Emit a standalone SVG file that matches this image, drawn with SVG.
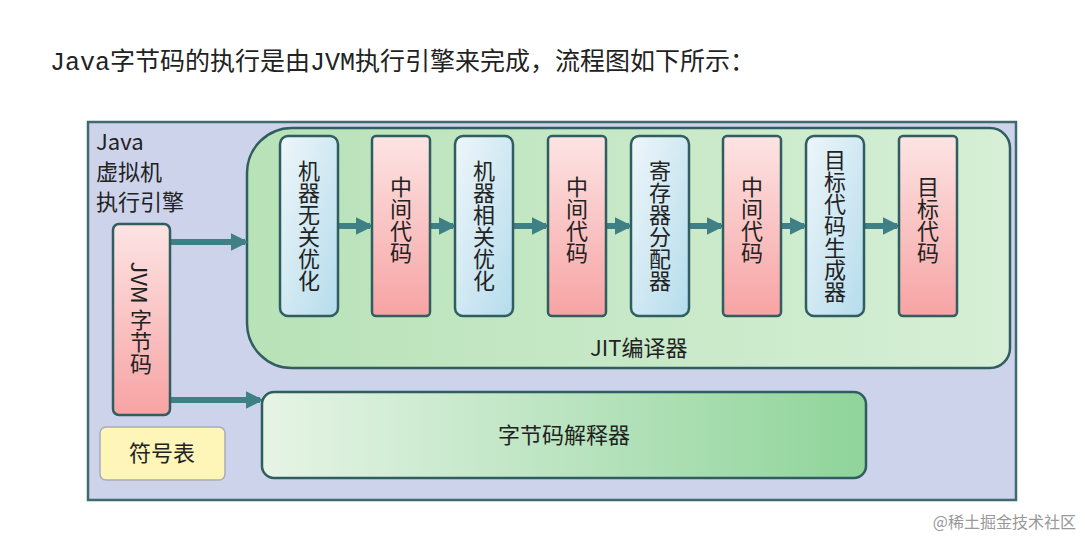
<svg xmlns="http://www.w3.org/2000/svg" width="1085" height="541" viewBox="0 0 1085 541">
<defs>
<linearGradient id="blue" x1="0" y1="0" x2="1" y2="1"><stop offset="0" stop-color="#eef6fa"/><stop offset="1" stop-color="#b5dcec"/></linearGradient>
<linearGradient id="pink" x1="0" y1="0" x2="0" y2="1"><stop offset="0" stop-color="#fde4e4"/><stop offset="1" stop-color="#f7a3a3"/></linearGradient>
<linearGradient id="green" x1="0" y1="0" x2="1" y2="0"><stop offset="0" stop-color="#e6f4e6"/><stop offset="1" stop-color="#8fd49a"/></linearGradient>
<linearGradient id="jit" x1="0" y1="0" x2="1" y2="0"><stop offset="0" stop-color="#b8e2b8"/><stop offset="1" stop-color="#d6efd6"/></linearGradient>
<marker id="ah" viewBox="0 0 10 10" refX="8" refY="5" markerWidth="3" markerHeight="3" orient="auto"><path d="M0,0 L10,5 L0,10 z" fill="#3f7f86"/></marker>
<style>
.box{stroke:#2f5d60;stroke-width:2.5}
.t{font-family:"Noto Sans CJK SC","Noto Sans",sans-serif;font-size:22px;fill:#222}
.v{writing-mode:vertical-rl;text-anchor:middle}
.c{stroke:#3f7f86;stroke-width:6;fill:none;marker-end:url(#ah)}
</style>
</defs>
<rect width="1085" height="541" fill="#fff"/>
<text x="50" y="70" font-family="Liberation Mono,'Noto Sans CJK SC',monospace" font-size="25" fill="#222">Java字节码的执行是由JVM执行引擎来完成，流程图如下所示：</text>
<g id="engine"><rect x="88" y="122" width="928" height="378" fill="#cdd3ea" stroke="#3e6b6e" stroke-width="2.5"/>
<text class="t" x="96" y="150">Java</text><text class="t" x="96" y="180">虚拟机</text><text class="t" x="96" y="210">执行引擎</text></g>
<g id="jit"><path d="M292,128 H990 a20,20 0 0 1 20,20 V348 a20,20 0 0 1 -20,20 H292 a45,45 0 0 1 -45,-45 V173 a45,45 0 0 1 45,-45z" fill="url(#jit)" class="box"/>
<text class="t" x="590" y="356" font-size="24">JIT编译器</text></g>
<g id="connectors">
<line class="c" x1="170" y1="242" x2="245" y2="242"/>
<line class="c" x1="170" y1="400" x2="260" y2="400"/>
<line class="c" x1="338" y1="226" x2="370" y2="226"/>
<line class="c" x1="430" y1="226" x2="453" y2="226"/>
<line class="c" x1="513" y1="226" x2="546" y2="226"/>
<line class="c" x1="606" y1="226" x2="629" y2="226"/>
<line class="c" x1="689" y1="226" x2="721" y2="226"/>
<line class="c" x1="781" y1="226" x2="804" y2="226"/>
<line class="c" x1="864" y1="226" x2="897" y2="226"/>
</g>
<g id="jvm"><rect class="box" x="113" y="224" width="57" height="191" rx="6" fill="url(#pink)"/><text class="t v" x="141" y="318">JVM 字节码</text></g>
<g id="n1"><rect class="box" x="280" y="136" width="58" height="180" rx="8" fill="url(#blue)"/><text class="t v" x="309" y="226">机器无关优化</text></g>
<g id="n2"><rect class="box" x="372" y="136" width="58" height="180" rx="4" fill="url(#pink)"/><text class="t v" x="401" y="220">中间代码</text></g>
<g id="n3"><rect class="box" x="455" y="136" width="58" height="180" rx="8" fill="url(#blue)"/><text class="t v" x="484" y="226">机器相关优化</text></g>
<g id="n4"><rect class="box" x="548" y="136" width="58" height="180" rx="4" fill="url(#pink)"/><text class="t v" x="577" y="220">中间代码</text></g>
<g id="n5"><rect class="box" x="631" y="136" width="58" height="180" rx="8" fill="url(#blue)"/><text class="t v" x="660" y="226">寄存器分配器</text></g>
<g id="n6"><rect class="box" x="723" y="136" width="58" height="180" rx="4" fill="url(#pink)"/><text class="t v" x="752" y="220">中间代码</text></g>
<g id="n7"><rect class="box" x="806" y="136" width="58" height="180" rx="8" fill="url(#blue)"/><text class="t v" x="835" y="226">目标代码生成器</text></g>
<g id="n8"><rect class="box" x="899" y="136" width="58" height="180" rx="4" fill="url(#pink)"/><text class="t v" x="928" y="220">目标代码</text></g>
<g id="interp"><rect class="box" x="262" y="392" width="604" height="86" rx="12" fill="url(#green)"/><text class="t" x="564" y="443" text-anchor="middle">字节码解释器</text></g>
<g id="sym"><rect x="100" y="427" width="125" height="53" rx="6" fill="#fdf6b8" stroke="#aab" stroke-width="1.5"/><text class="t" x="162" y="461" text-anchor="middle" font-size="18">符号表</text></g>
<text x="1076" y="528" text-anchor="end" font-family="'Noto Sans CJK SC',sans-serif" font-size="16" fill="#999">@稀土掘金技术社区</text>
</svg>
